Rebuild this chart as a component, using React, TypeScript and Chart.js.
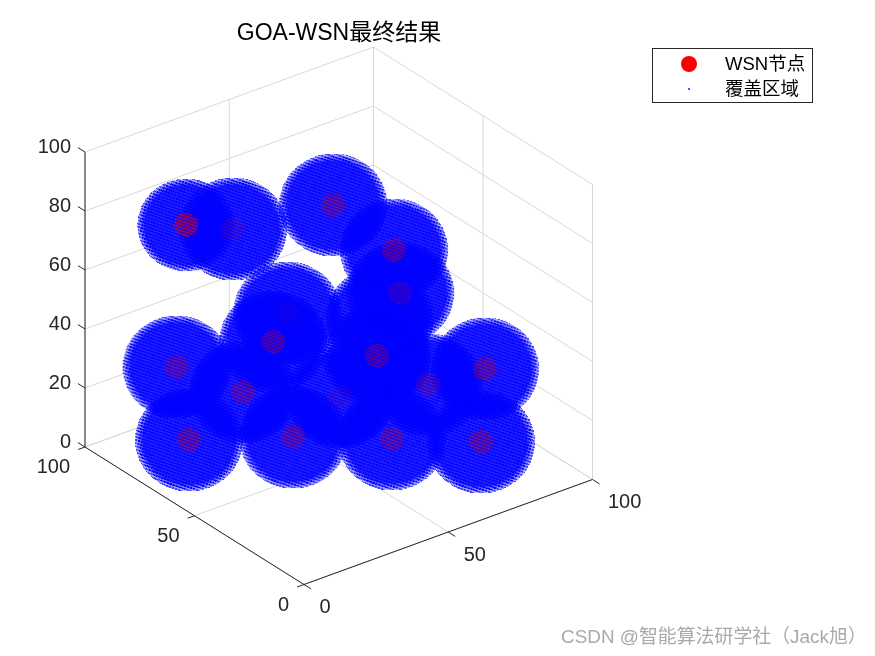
import React, { useEffect, useRef } from "react";
import { Chart, registerables } from "chart.js";

Chart.register(...registerables);

// sensor nodes (x, y, z axis values)
const nodeX = [22.4, 36.5, 51.4, 62.4, 61.1, 47.9, 41.9, 25.4, 35.3, 12.9, 36.8, 73.2, 61.1, 78.4, 84.1, 68.0, 57.8, 68.6];
const nodeY = [83.4, 80.5, 54.4, 41.1, 36.6, 70.8, 69.3, 91.6, 74.4, 69.5, 53.4, 63.1, 64.0, 46.6, 28.2, 8.8, 36.0, 55.7];
const nodeZ = [75, 70, 85, 72, 60, 42, 35, 22, 18, 12, 12, 22, 12, 18, 30, 20, 12, 40];
// how much of each red marker shows through the blue shells
const nodeShow = [0.9, 0.22, 0.52, 0.55, 0.3, 0.1, 0.5, 0.48, 0.48, 0.55, 0.5, 0.48, 0.15, 0.36, 0.55, 0.55, 0.5, 0];
// apparent size of each coverage shell (the first one is cut by the box)
const shellSize = [0.9, 1, 1, 1, 1, 1, 1, 1, 1, 1, 1, 1, 1, 1, 1, 1, 1, 1];

const xTicks = [0, 50, 100];
const yTicks = [0, 50, 100];
const zTicks = [0, 20, 40, 60, 80, 100];
const legendLabels = ["WSN节点", "覆盖区域"];
const titleText = "GOA-WSN最终结果";
const watermarkText = "CSDN @智能算法研学社（Jack旭）";

const W = 875;
const H = 656;
const SANS = '"Liberation Sans","Noto Sans CJK SC",sans-serif';

// fixed view of the MATLAB 3-D axes
const project = (x: number, y: number, z: number) => ({
  x: 304 + 2.885 * x - 2.19 * y,
  y: 584.5 - 1.05 * x - 1.375 * y - 2.95 * z,
});

const GAP = { x: NaN, y: NaN };
const seg = (a: number[], b: number[]) => [project(a[0], a[1], a[2]), project(b[0], b[1], b[2]), GAP];

const gridPoints: { x: number; y: number }[] = [];
for (const t of xTicks) {
  gridPoints.push(...seg([t, 0, 0], [t, 100, 0]));
  gridPoints.push(...seg([t, 100, 0], [t, 100, 100]));
}
for (const t of yTicks) {
  gridPoints.push(...seg([0, t, 0], [100, t, 0]));
  gridPoints.push(...seg([100, t, 0], [100, t, 100]));
}
for (const t of zTicks) {
  gridPoints.push(...seg([0, 100, t], [100, 100, t]));
  gridPoints.push(...seg([100, 100, t], [100, 0, t]));
}

const axisPoints: { x: number; y: number }[] = [
  ...seg([0, 0, 0], [100, 0, 0]),
  ...seg([0, 0, 0], [0, 100, 0]),
  ...seg([0, 100, 0], [0, 100, 100]),
];
for (const t of xTicks) axisPoints.push(...seg([t, 0, 0], [t, -3.2, 0]));
for (const t of yTicks) axisPoints.push(...seg([0, t, 0], [-2.4, t, 0]));
for (const t of zTicks) axisPoints.push(...seg([0, 100, t], [0, 103.2, t]));

const nodePoints = nodeX.map((x, i) => project(x, nodeY[i], nodeZ[i]));

// fine "\" lattice of the plotted shell points
function lattice(i: number, j: number) {
  const a = (-0.33 * i + 0.94 * j) / 3.0;
  const b = (0.94 * i + 0.33 * j) / 3.4;
  const fa = a - Math.floor(a);
  const fb = b - Math.floor(b);
  return { stripe: fa < 0.55, dot: fb < 0.75 };
}

function shellSprite(size: number) {
  const rx = 54 * size;
  const ry = 51.5 * size;
  const c = document.createElement("canvas");
  c.width = 2 * Math.ceil(rx) + 2;
  c.height = 2 * Math.ceil(ry) + 2;
  const ctx = c.getContext("2d")!;
  const img = ctx.createImageData(c.width, c.height);
  const cx = c.width / 2;
  const cy = c.height / 2;
  for (let j = 0; j < c.height; j++) {
    for (let i = 0; i < c.width; i++) {
      const dx = (i + 0.5 - cx) / rx;
      const dy = (j + 0.5 - cy) / ry;
      const r = Math.sqrt(dx * dx + dy * dy);
      if (r > 1) continue;
      const { stripe, dot } = lattice(i, j);
      const on = stripe && dot;
      const offA = r > 0.86 ? 0.22 + (1 - r) * 4.2 : 0.88;
      const onA = r > 0.95 ? 0.75 : 0.98;
      const k = (j * c.width + i) * 4;
      img.data[k] = 0;
      img.data[k + 1] = 0;
      img.data[k + 2] = 255;
      img.data[k + 3] = Math.round(255 * (on ? onA : stripe ? (onA + offA) / 2 : offA));
    }
  }
  ctx.putImageData(img, 0, 0);
  return c;
}

function nodeSprite(show: number) {
  const r = 12;
  const c = document.createElement("canvas");
  c.width = 2 * r + 2;
  c.height = 2 * r + 2;
  const ctx = c.getContext("2d")!;
  const img = ctx.createImageData(c.width, c.height);
  for (let j = 0; j < c.height; j++) {
    for (let i = 0; i < c.width; i++) {
      const d = Math.hypot(i + 0.5 - (r + 1), j + 0.5 - (r + 1));
      if (d > r) continue;
      const { stripe } = lattice(i, j);
      const k = (j * c.width + i) * 4;
      img.data[k] = 200;
      img.data[k + 1] = 0;
      img.data[k + 2] = 30;
      img.data[k + 3] = Math.round(255 * show * (stripe ? 0.32 : 0.85));
    }
  }
  ctx.putImageData(img, 0, 0);
  return c;
}

const textPlugin = {
  id: "axesText",
  afterDraw(chart: any) {
    const ctx = chart.ctx as CanvasRenderingContext2D;
    ctx.save();
    ctx.textBaseline = "middle";

    ctx.fillStyle = "#000000";
    ctx.textAlign = "center";
    ctx.font = `23px ${SANS}`;
    ctx.fillText(titleText, 339, 34);

    ctx.fillStyle = "#262626";
    ctx.font = `20px ${SANS}`;
    ctx.textAlign = "left";
    for (const t of xTicks) {
      const p = project(t, 0, 0);
      ctx.fillText(String(t), p.x + 15.5, p.y + 23);
    }
    ctx.textAlign = "right";
    for (const t of yTicks) {
      const p = project(0, t, 0);
      ctx.fillText(String(t), p.x - 15, p.y + 20.5);
    }
    for (const t of zTicks) {
      const p = project(0, 100, t);
      ctx.fillText(String(t), p.x - 14, p.y - 5);
    }

    // legend box
    ctx.fillStyle = "#ffffff";
    ctx.fillRect(653, 48, 159, 54);
    ctx.strokeStyle = "#262626";
    ctx.lineWidth = 1;
    ctx.strokeRect(652.5, 48.5, 160, 54);
    ctx.fillStyle = "#ff0000";
    ctx.beginPath();
    ctx.arc(689, 64, 8, 0, Math.PI * 2);
    ctx.fill();
    ctx.fillStyle = "#5050ff";
    ctx.fillRect(688, 88, 2, 2);
    ctx.fillStyle = "#000000";
    ctx.textAlign = "left";
    ctx.font = `18.5px ${SANS}`;
    ctx.fillText(legendLabels[0], 725, 65);
    ctx.fillText(legendLabels[1], 725, 90);

    // watermark
    ctx.fillStyle = "#a9a9a9";
    ctx.font = `18.9px ${SANS}`;
    ctx.fillText(watermarkText, 561, 638);
    ctx.restore();
  },
};

export default function App() {
  const ref = useRef<HTMLCanvasElement>(null);
  useEffect(() => {
    const chart = new Chart(ref.current!, {
      type: "scatter",
      data: {
        datasets: [
          {
            label: legendLabels[0],
            data: nodePoints,
            pointStyle: nodeShow.map(nodeSprite) as any,
            pointRadius: 12,
            clip: false,
            order: 0,
          },
          {
            label: legendLabels[1],
            data: nodePoints,
            pointStyle: shellSize.map(shellSprite) as any,
            pointRadius: 54,
            clip: false,
            order: 1,
          },
          {
            label: "axes",
            data: axisPoints,
            showLine: true,
            spanGaps: false,
            borderColor: "#262626",
            borderWidth: 1,
            pointRadius: 0,
            order: 2,
          },
          {
            label: "grid",
            data: gridPoints,
            showLine: true,
            spanGaps: false,
            borderColor: "#d8d8d8",
            borderWidth: 1,
            pointRadius: 0,
            order: 3,
          },
        ],
      },
      options: {
        animation: false,
        responsive: false,
        events: [],
        layout: { padding: 0, autoPadding: false },
        plugins: { legend: { display: false }, title: { display: false }, tooltip: { enabled: false } },
        scales: {
          x: { type: "linear", min: 0, max: W, display: false },
          y: { type: "linear", min: 0, max: H, reverse: true, display: false },
        },
      },
      plugins: [textPlugin],
    });
    return () => chart.destroy();
  }, []);
  return (
    <div style={{ position: "absolute", left: 0, top: 0, width: W, height: H, background: "#fff" }}>
      <canvas ref={ref} width={W} height={H} style={{ display: "block" }} />
    </div>
  );
}
